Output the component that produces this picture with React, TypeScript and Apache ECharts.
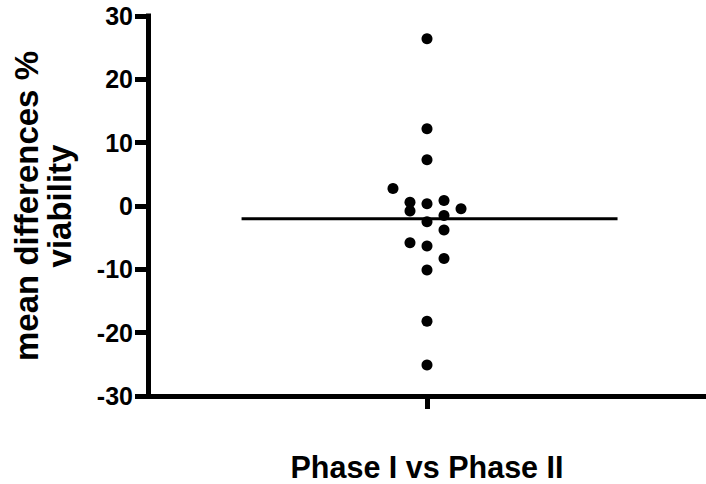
import React, { useEffect, useRef } from "react";
import * as echarts from "echarts";

// Data
const categories = [""];
const xTitle = "Phase I vs Phase II";
const yTitle = "mean differences %\nviability";
const yTicks = [-30, -20, -10, 0, 10, 20, 30];
const values = [26.4, 12.2, 7.3, 2.75, 0.6, 0.35, 0.87, -0.8, -0.45, -1.5, -2.5, -3.8, -5.8, -6.3, -8.3, -10.1, -18.2, -25.1];
// horizontal jitter lanes of the scatter dots
const lanes = [0, 0, 0, -2, -1, 0, 1, -1, 2, 1, 0, 1, -1, 0, 1, 0, 0, 0];
const meanValue = -2;
const meanSpan = [-10.9, 11.2];

const FONT = "'Liberation Sans', Arial, Helvetica, sans-serif";

export default function App() {
  const ref = useRef<HTMLDivElement>(null);
  useEffect(() => {
    if (!ref.current) return;
    const chart = echarts.init(ref.current, undefined, { renderer: "svg" });
    const axisLine = { show: true, onZero: false, lineStyle: { color: "#000", width: 5, cap: "square" } };
    chart.setOption({
      animation: false,
      backgroundColor: "#fff",
      grid: { left: 148, right: 0, top: 16, bottom: 88, containLabel: false, outerBoundsMode: "none" },
      xAxis: [
        {
          type: "category",
          data: categories,
          boundaryGap: true,
          axisLine,
          axisTick: { show: true, alignWithLabel: true, length: 13, lineStyle: { color: "#000", width: 5 } },
          axisLabel: { show: false },
          splitLine: { show: false },
          name: xTitle,
          nameLocation: "middle",
          nameGap: 55,
          nameTextStyle: { fontFamily: FONT, fontWeight: "bold", fontSize: 30.5, color: "#000" },
        },
        {
          type: "value",
          min: -16.4,
          max: 16.4,
          show: false,
          axisLine: { onZero: false },
          splitLine: { show: false },
        },
      ],
      yAxis: {
        type: "value",
        min: yTicks[0],
        max: yTicks[yTicks.length - 1],
        interval: 10,
        axisLine,
        axisTick: { show: true, length: 13, lineStyle: { color: "#000", width: 5 } },
        axisLabel: { margin: 15, fontFamily: FONT, fontWeight: "bold", fontSize: 25, color: "#000" },
        splitLine: { show: false },
        name: yTitle,
        nameLocation: "middle",
        nameRotate: 90,
        nameGap: 72,
        nameTextStyle: { fontFamily: FONT, fontWeight: "bold", fontSize: 33, lineHeight: 33, color: "#000", align: "center" },
      },
      series: [
        {
          type: "scatter",
          xAxisIndex: 1,
          symbol: "circle",
          symbolSize: 11,
          itemStyle: { color: "#000", opacity: 1 },
          data: values.map((v, i) => [lanes[i], v]),
        },
        {
          type: "line",
          xAxisIndex: 1,
          symbol: "none",
          lineStyle: { color: "#000", width: 3 },
          data: meanSpan.map((x) => [x, meanValue]),
        },
      ],
    });
    return () => chart.dispose();
  }, []);
  return (
    <div
      ref={ref}
      style={{ position: "fixed", left: 0, top: 0, width: 706, height: 484, background: "#fff" }}
    />
  );
}
